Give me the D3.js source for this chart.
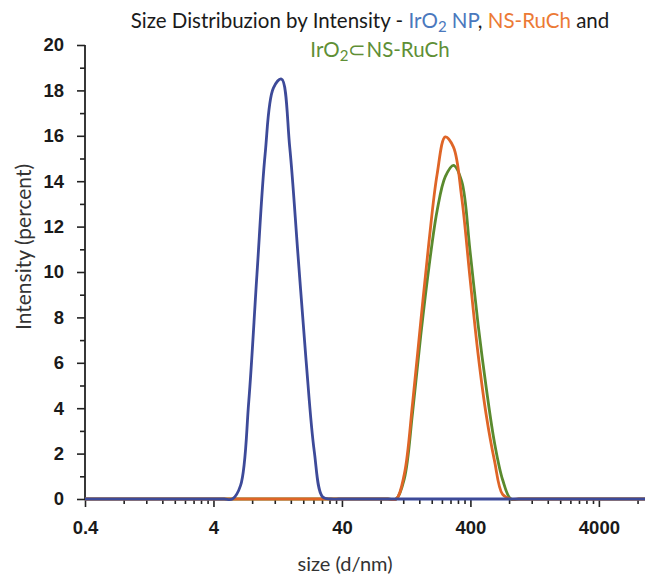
<!DOCTYPE html>
<html>
<head>
<meta charset="utf-8">
<script src="https://cdn.jsdelivr.net/npm/d3@7"></script>
<style>
  body { margin: 0; background: #fff; }
  svg { display: block; }
</style>
</head>
<body>
<div id="chart"></div>
<script>
// Zetasizer size bins (d/nm)
var sizes = [0.4, 0.4632, 0.5365, 0.6213, 0.7195, 0.8332, 0.9649, 1.117, 1.294, 1.499,
  1.736, 2.01, 2.328, 2.696, 3.122, 3.615, 4.187, 4.849, 5.615, 6.503,
  7.531, 8.721, 10.1, 11.7, 13.54, 15.69, 18.17, 21.04, 24.36, 28.21,
  32.67, 37.84, 43.82, 50.75, 58.77, 68.06, 78.82, 91.28, 105.7, 122.4,
  141.8, 164.2, 190.1, 220.2, 255.0, 295.3, 342.0, 396.1, 458.7, 531.2,
  615.1, 712.4, 825.0, 955.4, 1106, 1281, 1484, 1718, 1990, 2305,
  2669, 3091, 3580, 4145, 4801, 5560, 6439, 7456, 8635, 10000];

var iro2 = [0, 0, 0, 0, 0, 0, 0, 0, 0, 0,
  0, 0, 0, 0, 0, 0, 0, 0, 0, 0.6,
  4.3, 9.9, 15.2, 18.1, 18.5, 15.5, 10.8, 6.1, 2.1, 0.1,
  0, 0, 0, 0, 0, 0, 0, 0, 0, 0,
  0, 0, 0, 0, 0, 0, 0, 0, 0, 0,
  0, 0, 0, 0, 0, 0, 0, 0, 0, 0,
  0, 0, 0, 0, 0, 0, 0, 0, 0, 0];

var nsRuCh = [0, 0, 0, 0, 0, 0, 0, 0, 0, 0,
  0, 0, 0, 0, 0, 0, 0, 0, 0, 0,
  0, 0, 0, 0, 0, 0, 0, 0, 0, 0,
  0, 0, 0, 0, 0, 0, 0, 0, 0, 1.1,
  4.2, 7.8, 11.3, 14.3, 15.95, 15.5, 13.3, 9.8, 6.4, 3.7,
  1.7, 0.2, 0, 0, 0, 0, 0, 0, 0, 0,
  0, 0, 0, 0, 0, 0, 0, 0, 0, 0];

var iro2InRuCh = [0, 0, 0, 0, 0, 0, 0, 0, 0, 0,
  0, 0, 0, 0, 0, 0, 0, 0, 0, 0,
  0, 0, 0, 0, 0, 0, 0, 0, 0, 0,
  0, 0, 0, 0, 0, 0, 0, 0, 0, 0.9,
  3.8, 7.2, 10.2, 12.7, 14.2, 14.7, 14.0, 11.0, 7.7, 4.9,
  2.5, 0.85, 0, 0, 0, 0, 0, 0, 0, 0,
  0, 0, 0, 0, 0, 0, 0, 0, 0, 0];

var xMajor = [0.4, 4, 40, 400, 4000];
var xMinor = [0.8, 1.2, 1.6, 2, 2.4, 2.8, 3.2, 3.6,
  8, 12, 16, 20, 24, 28, 32, 36,
  80, 120, 160, 200, 240, 280, 320, 360,
  800, 1200, 1600, 2000, 2400, 2800, 3200, 3600,
  8000];
var yMajor = [0, 2, 4, 6, 8, 10, 12, 14, 16, 18, 20];
var yMinor = [1, 3, 5, 7, 9, 11, 13, 15, 17, 19];

var width = 645,
    height = 577;

var svg = d3.select("#chart").append("svg")
    .attr("width", width)
    .attr("height", height);

var x = d3.scaleLog()
    .domain([0.4, 10000])
    .range([85, 650]);

var y = d3.scaleLinear()
    .domain([0, 20])
    .range([499, 45]);

var textFont = "Lato, 'Open Sans', sans-serif";

// title
var title = svg.append("text")
    .attr("font-family", textFont)
    .attr("font-size", 20.5)
    .attr("text-anchor", "middle");

var t1 = title.append("tspan").attr("x", 370).attr("y", 28);
t1.append("tspan").attr("fill", "#1a1a1a").text("Size Distribuzion by Intensity - ");
t1.append("tspan").attr("fill", "#4a78bd").text("IrO");
t1.append("tspan").attr("fill", "#4a78bd").attr("font-size", 15).attr("dy", 4).text("2");
t1.append("tspan").attr("fill", "#4a78bd").attr("dy", -4).text(" NP");
t1.append("tspan").attr("fill", "#1a1a1a").text(", ");
t1.append("tspan").attr("fill", "#ec7a35").text("NS-RuCh");
t1.append("tspan").attr("fill", "#1a1a1a").text(" and");

var t2 = svg.append("text")
    .attr("font-family", textFont)
    .attr("font-size", 20.5)
    .attr("text-anchor", "middle")
    .attr("x", 380)
    .attr("y", 57)
    .attr("fill", "#5f8f36");
t2.append("tspan").text("IrO");
t2.append("tspan").attr("font-size", 15).attr("dy", 4).text("2");
t2.append("tspan").attr("dy", -4).text("\u2282NS-RuCh");

// axes
var axisStyle = function(sel) {
  sel.select(".domain").remove();
  sel.selectAll("line").attr("stroke", "#222").attr("stroke-width", 1.6);
  sel.selectAll("text")
    .attr("font-family", "'Liberation Sans', Arial, sans-serif")
    .attr("font-weight", "bold")
    .attr("font-size", 18.5)
    .attr("fill", "#1a1a1a");
};

svg.append("g")
    .attr("transform", "translate(0," + y(0) + ")")
    .call(d3.axisBottom(x).tickValues(xMinor).tickSize(5).tickFormat(""))
    .call(axisStyle);

svg.append("g")
    .attr("transform", "translate(0," + y(0) + ")")
    .call(d3.axisBottom(x).tickValues(xMajor).tickSize(8).tickPadding(14)
      .tickFormat(function(d) { return d; }))
    .call(axisStyle);

svg.append("g")
    .attr("transform", "translate(" + x(0.4) + ",0)")
    .call(d3.axisLeft(y).tickValues(yMinor).tickSize(5).tickFormat(""))
    .call(axisStyle);

svg.append("g")
    .attr("transform", "translate(" + x(0.4) + ",0)")
    .call(d3.axisLeft(y).tickValues(yMajor).tickSize(8).tickPadding(13))
    .call(axisStyle);

svg.append("line")
    .attr("x1", x(0.4)).attr("x2", x(0.4))
    .attr("y1", y(20)).attr("y2", y(0))
    .attr("stroke", "#222")
    .attr("stroke-width", 1.8);

svg.append("line")
    .attr("x1", x(0.4)).attr("x2", width)
    .attr("y1", y(0)).attr("y2", y(0))
    .attr("stroke", "#222")
    .attr("stroke-width", 1.8);

// axis titles
svg.append("text")
    .attr("font-family", textFont)
    .attr("font-size", 21)
    .attr("fill", "#333")
    .attr("text-anchor", "middle")
    .attr("transform", "translate(31,247) rotate(-90)")
    .text("Intensity (percent)");

svg.append("text")
    .attr("font-family", textFont)
    .attr("font-size", 20)
    .attr("fill", "#333")
    .attr("text-anchor", "middle")
    .attr("x", 345)
    .attr("y", 571)
    .text("size (d/nm)");

// lines
var series = [
  {name: "IrO2 in NS-RuCh", values: iro2InRuCh, color: "#5a8a2e"},
  {name: "NS-RuCh", values: nsRuCh, color: "#df6527"},
  {name: "IrO2 NP", values: iro2, color: "#3d4a99"}
];

var line = d3.line()
    .x(function(d) { return x(d[0]); })
    .y(function(d) { return Math.min(y(0), y(d[1])); })
    .curve(d3.curveCatmullRom.alpha(0.5));

svg.append("g")
  .selectAll("path")
  .data(series)
  .enter().append("path")
    .attr("fill", "none")
    .attr("stroke", function(d) { return d.color; })
    .attr("stroke-width", 2.8)
    .attr("stroke-linejoin", "round")
    .attr("d", function(d) {
      return line(sizes.map(function(s, i) { return [s, d.values[i]]; }));
    });
</script>
</body>
</html>
